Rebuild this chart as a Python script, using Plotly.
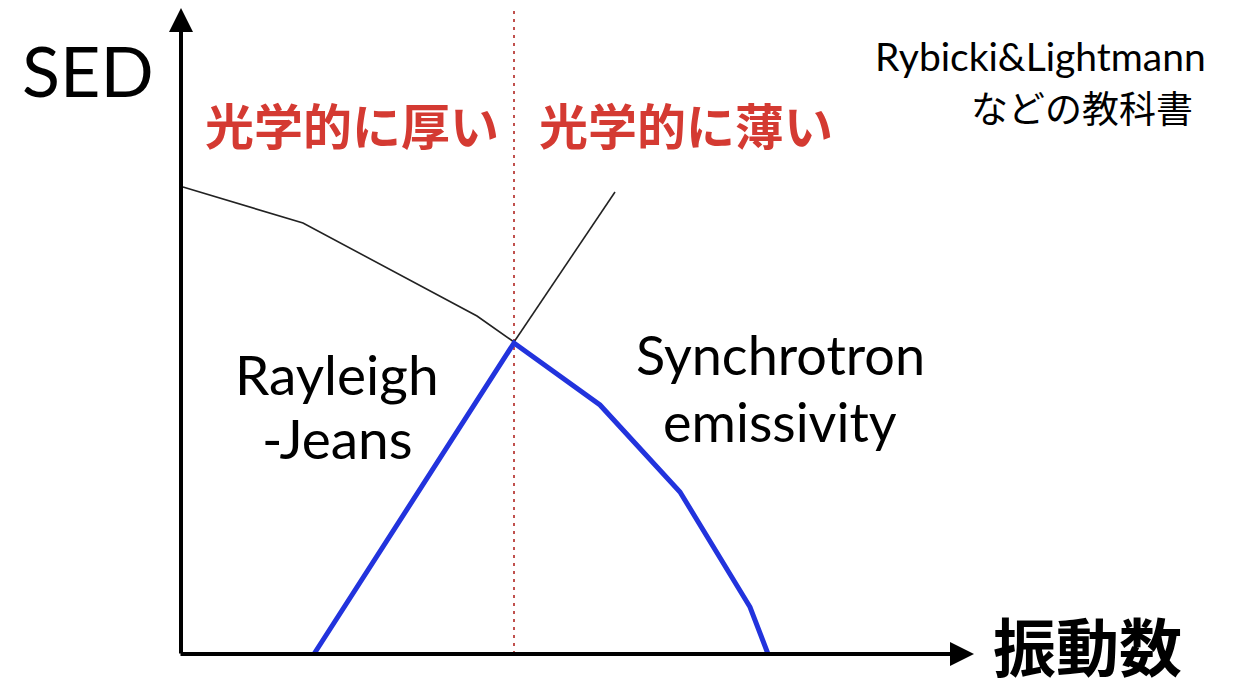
import plotly.graph_objects as go

# Coordinates in a pixel-like frame: origin at the axes corner, y up.
# Black curve (optically thick part + optically thin continuation)
thick_x = [2, 122, 296, 333]
thick_y = [467, 431, 338, 312]
thin_x = [333, 434]
thin_y = [312, 462]

# Blue curve (Rayleigh-Jeans rise and synchrotron fall)
blue_x = [133, 333, 419, 499, 569, 587]
blue_y = [0, 311, 249, 162, 47, 0]

# Turnover frequency (dotted red divider)
turnover_x = 333

# Axis extents
x_axis_end = 793
y_axis_end = 646

fig = go.Figure()

fig.add_trace(go.Scatter(x=[turnover_x, turnover_x], y=[0, 660], mode="lines",
                         line=dict(color="#c0504d", width=2, dash="3px,5px"),
                         hoverinfo="skip"))
fig.add_trace(go.Scatter(x=thick_x, y=thick_y, mode="lines",
                         line=dict(color="#222222", width=1.6), hoverinfo="skip"))
fig.add_trace(go.Scatter(x=thin_x, y=thin_y, mode="lines",
                         line=dict(color="#222222", width=1.6), hoverinfo="skip"))
fig.add_trace(go.Scatter(x=blue_x, y=blue_y, mode="lines",
                         line=dict(color="#2233dd", width=5), hoverinfo="skip"))

# Axes as arrows
fig.add_annotation(x=0, y=y_axis_end, ax=0, ay=-1, xref="x", yref="y", axref="x", ayref="y",
                   text="", showarrow=True, arrowhead=2, arrowsize=1.2, arrowwidth=4,
                   arrowcolor="black")
fig.add_annotation(x=x_axis_end, y=0, ax=-2, ay=0, xref="x", yref="y", axref="x", ayref="y",
                   text="", showarrow=True, arrowhead=2, arrowsize=1.2, arrowwidth=4,
                   arrowcolor="black")

latin = "Lato, 'Noto Sans', sans-serif"
cjk = "'Noto Sans CJK JP', sans-serif"

def txt(x, y, s, size, color="black", family=latin, xanchor="center", bold=False):
    fig.add_annotation(x=x, y=y, xref="x", yref="y", text=f"<b>{s}</b>" if bold else s,
                       showarrow=False, xanchor=xanchor, yanchor="middle",
                       font=dict(size=size, color=color, family=family))

txt(-93, 584, "SED", 70)
txt(22, 531, "光学的に厚い", 49, color="#d43a32", family=cjk, xanchor="left", bold=True)
txt(356, 531, "光学的に薄い", 49, color="#d43a32", family=cjk, xanchor="left", bold=True)
txt(156, 280, "Rayleigh", 55)
txt(156, 216, "-Jeans", 55)
txt(599, 300, "Synchrotron", 54)
txt(599, 233, "emissivity", 54)
txt(1027, 598, "Rybicki&Lightmann", 39, xanchor="right")
txt(1014, 547, "などの教科書", 37, family=cjk, xanchor="right")
txt(906, 11, "振動数", 63, family=cjk, bold=True)

fig.update_layout(
    width=1235, height=687,
    margin=dict(l=0, r=0, t=0, b=0),
    paper_bgcolor="white", plot_bgcolor="white",
    showlegend=False,
    xaxis=dict(range=[-173, 1062], visible=False, fixedrange=True),
    yaxis=dict(range=[-41, 646], visible=False, fixedrange=True),
)

fig.write_html("out.html")
